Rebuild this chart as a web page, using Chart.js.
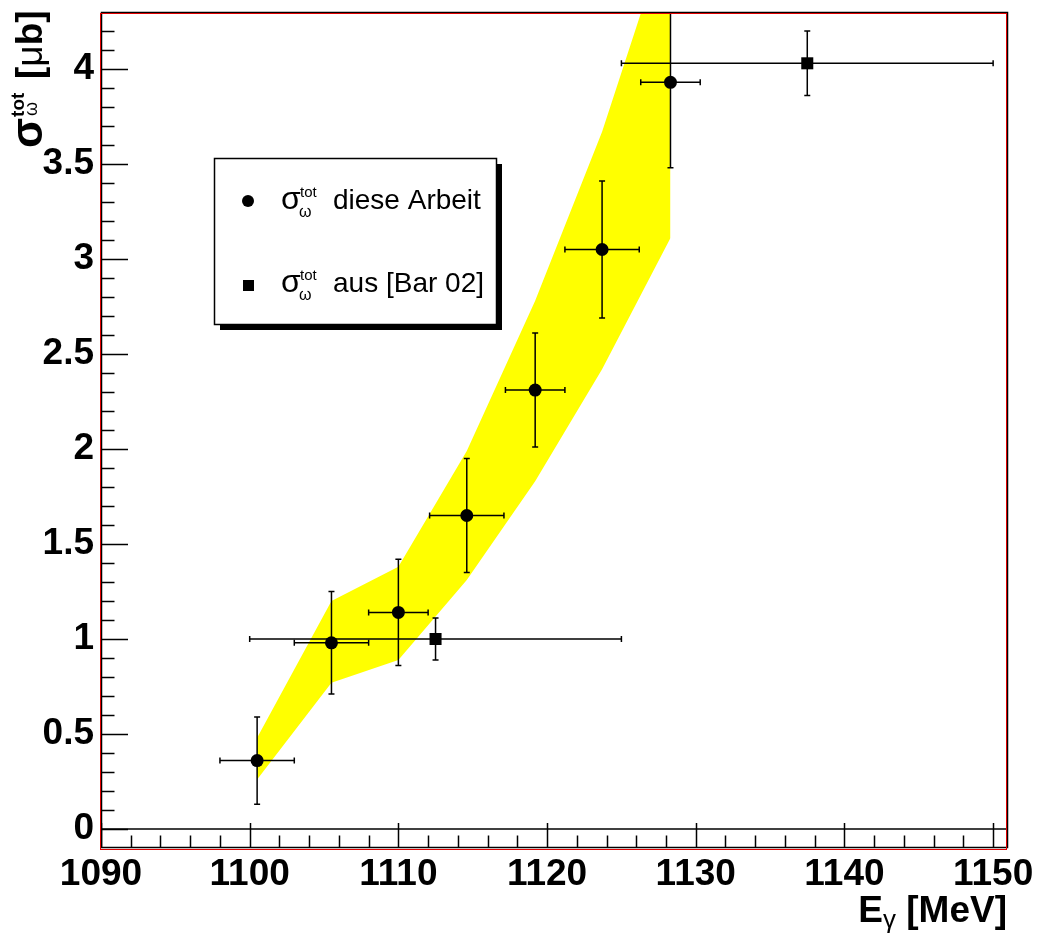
<!DOCTYPE html>
<html>
<head>
<meta charset="utf-8">
<script src="https://cdn.jsdelivr.net/npm/chart.js@4.4.1/dist/chart.umd.min.js"></script>
<style>
  html, body { margin: 0; padding: 0; background: #ffffff; }
  #wrap { width: 1042px; height: 938px; position: relative; }
</style>
</head>
<body>
<div id="wrap"><canvas id="c" width="1042" height="938"></canvas></div>
<script>
// --- measured total cross section of omega photoproduction near threshold ---
const energy    = [1100.5, 1105.5, 1110.0, 1114.6, 1119.2, 1123.7, 1128.3];   // E_gamma [MeV]
const energyErr = [2.5, 2.5, 2.0, 2.5, 2.0, 2.5, 2.0];
const sigma     = [0.36, 0.98, 1.14, 1.65, 2.31, 3.05, 3.93];                 // [mub]
const sigmaErr  = [0.23, 0.27, 0.28, 0.30, 0.30, 0.36, 0.45];

// systematic uncertainty band (lower / upper edge at the same energies)
const bandLower = [0.26, 0.77, 0.89, 1.31, 1.83, 2.42, 3.11];
const bandUpper = [0.48, 1.20, 1.38, 1.99, 2.78, 3.67, 4.77];

// reference values [Bar 02]
const refEnergy    = [1112.5, 1137.5];
const refEnergyErr = [12.5, 12.5];
const refSigma     = [1.00, 4.03];
const refSigmaErr  = [0.11, 0.17];

// axis labelling
const xTickLabels = [1090, 1100, 1110, 1120, 1130, 1140, 1150];
const yTickLabels = [0, 0.5, 1, 1.5, 2, 2.5, 3, 3.5, 4];

const FONT = '"Liberation Sans", Arial, Helvetica, sans-serif';

const pts = (xs, ys) => xs.map((x, i) => ({ x: x, y: ys[i] }));

// error bars for datasets that carry xErr / yErr arrays
const errorBars = {
  id: 'errorBars',
  beforeDatasetDraw(chart, args) {
    const ds = chart.data.datasets[args.index];
    if (!ds.xErr) return;
    const ctx = chart.ctx, xs = chart.scales.x, ys = chart.scales.y, a = chart.chartArea;
    ctx.save();
    ctx.beginPath();
    ctx.rect(a.left, a.top, a.right - a.left, a.bottom - a.top);
    ctx.clip();
    ctx.strokeStyle = '#000';
    ctx.lineWidth = 1.5;
    const cap = 3;
    ds.data.forEach((p, i) => {
      const x1 = xs.getPixelForValue(p.x - ds.xErr[i]);
      const x2 = xs.getPixelForValue(p.x + ds.xErr[i]);
      const y1 = ys.getPixelForValue(p.y - ds.yErr[i]);
      const y2 = ys.getPixelForValue(p.y + ds.yErr[i]);
      const xc = xs.getPixelForValue(p.x), yc = ys.getPixelForValue(p.y);
      ctx.beginPath();
      ctx.moveTo(x1, yc); ctx.lineTo(x2, yc);
      ctx.moveTo(x1, yc - cap); ctx.lineTo(x1, yc + cap);
      ctx.moveTo(x2, yc - cap); ctx.lineTo(x2, yc + cap);
      ctx.moveTo(xc, y1); ctx.lineTo(xc, y2);
      ctx.moveTo(xc - cap, y1); ctx.lineTo(xc + cap, y1);
      ctx.moveTo(xc - cap, y2); ctx.lineTo(xc + cap, y2);
      ctx.stroke();
    });
    ctx.restore();
  }
};

// frame, inner tick marks, zero line, legend and axis titles
const frameAndText = {
  id: 'frameAndText',
  afterDatasetsDraw(chart) {
    const ctx = chart.ctx, xs = chart.scales.x, ys = chart.scales.y;
    const { left, right, top, bottom } = chart.chartArea;
    ctx.save();

    // zero line
    const y0 = ys.getPixelForValue(0);
    ctx.strokeStyle = '#000';
    ctx.lineWidth = 1.5;
    ctx.beginPath();
    ctx.moveTo(left, y0); ctx.lineTo(right, y0);
    ctx.stroke();

    // x ticks (every 2 MeV, long every 10)
    ctx.lineWidth = 1.5;
    ctx.beginPath();
    for (let v = 1090; v <= 1150; v += 2) {
      const px = Math.round(xs.getPixelForValue(v)) + 0.5;
      const len = (v % 10 === 0) ? 25 : 12.5;
      ctx.moveTo(px, bottom); ctx.lineTo(px, bottom - len);
    }
    // y ticks (every 0.1, long every 0.5)
    for (let k = 0; k <= 42; k++) {
      const v = k / 10;
      const py = Math.round(ys.getPixelForValue(v)) + 0.5;
      const len = (k % 5 === 0) ? 27 : 13.5;
      ctx.moveTo(left, py); ctx.lineTo(left + len, py);
    }
    ctx.stroke();

    // frame: black outline with red inner line
    ctx.lineWidth = 1.5;
    ctx.strokeStyle = '#000';
    ctx.strokeRect(left + 0.5, top + 0.5, right - left - 1, bottom - top - 1);
    ctx.lineWidth = 1;
    ctx.strokeStyle = '#e00000';
    ctx.strokeRect(left - 0.5, top + 1.5, right - left - 1, bottom - top);

    // legend box with drop shadow
    const L = { x: 214, y: 158, w: 282, h: 166 };
    ctx.fillStyle = '#000';
    ctx.fillRect(L.x + 6, L.y + 6, L.w, L.h);
    ctx.fillStyle = '#fff';
    ctx.fillRect(L.x, L.y, L.w, L.h);
    ctx.strokeStyle = '#000';
    ctx.lineWidth = 1.5;
    ctx.strokeRect(L.x + 0.5, L.y + 0.5, L.w, L.h);

    const rows = [
      { ds: chart.data.datasets[2], my: 201, base: 209 },
      { ds: chart.data.datasets[3], my: 285, base: 292 }
    ];
    rows.forEach(r => {
      ctx.fillStyle = '#000';
      if (r.ds.pointStyle === 'circle') {
        ctx.beginPath(); ctx.arc(248, r.my, 6, 0, Math.PI * 2); ctx.fill();
      } else {
        ctx.fillRect(243, r.my - 5, 11, 11);
      }
      ctx.textAlign = 'left';
      ctx.textBaseline = 'alphabetic';
      ctx.font = '32px ' + FONT;
      ctx.fillText('σ', 281, r.base);
      ctx.font = '15px ' + FONT;
      ctx.fillText('tot', 300, r.base - 12);
      ctx.font = '16px ' + FONT;
      ctx.fillText('ω', 299, r.base + 8);
      ctx.font = '28px ' + FONT;
      ctx.fillText(r.ds.label, 333, r.base);
    });

    // x title: E_gamma [MeV], right aligned to the frame
    ctx.fillStyle = '#000';
    ctx.textBaseline = 'alphabetic';
    ctx.textAlign = 'left';
    const bigB = 'bold 37px ' + FONT;
    ctx.font = bigB; const wE = ctx.measureText('E').width;
    ctx.font = '26px ' + FONT; const wG = ctx.measureText('γ').width;
    ctx.font = bigB; const wU = ctx.measureText(' [MeV]').width;
    let xs0 = 1007 - (wE + wG + wU);
    ctx.font = bigB; ctx.fillText('E', xs0, 922);
    ctx.font = '26px ' + FONT; ctx.fillText('γ', xs0 + wE, 928);
    ctx.font = bigB; ctx.fillText(' [MeV]', xs0 + wE + wG, 922);

    // y title: sigma^tot_omega [mub], rotated, ending at the frame top
    ctx.save();
    ctx.translate(42, 148);
    ctx.rotate(-Math.PI / 2);
    ctx.font = 'bold 44px ' + FONT; ctx.fillText('σ', 0, 0);
    const wS = ctx.measureText('σ').width;
    ctx.font = 'bold 19px ' + FONT; ctx.fillText('tot', wS + 1, -18);
    ctx.font = '18px ' + FONT; ctx.fillText('ω', wS + 2, -5);
    let p = 69;
    ctx.font = 'bold 37px ' + FONT; ctx.fillText('[', p, 0); p += ctx.measureText('[').width;
    ctx.font = '37px ' + FONT; ctx.fillText('μ', p, 0); p += ctx.measureText('μ').width;
    ctx.font = 'bold 37px ' + FONT; ctx.fillText('b]', p, 0);
    ctx.restore();

    ctx.restore();
  }
};

const chart = new Chart(document.getElementById('c'), {
  type: 'scatter',
  data: {
    datasets: [
      { // band lower edge
        label: 'band lower', data: pts(energy, bandLower), showLine: true,
        borderWidth: 0, pointRadius: 0, fill: false, order: 10,
        backgroundColor: '#ffff00', borderColor: 'rgba(0,0,0,0)'
      },
      { // band upper edge, filled down to the lower edge
        label: 'band upper', data: pts(energy, bandUpper), showLine: true,
        borderWidth: 0, pointRadius: 0, fill: '-1', order: 9,
        backgroundColor: '#ffff00', borderColor: 'rgba(0,0,0,0)'
      },
      {
        label: 'diese Arbeit', data: pts(energy, sigma),
        xErr: energyErr, yErr: sigmaErr,
        pointStyle: 'circle', pointRadius: 6.5, pointBorderWidth: 0,
        backgroundColor: '#000', borderColor: '#000', order: 1
      },
      {
        label: 'aus [Bar 02]', data: pts(refEnergy, refSigma),
        xErr: refEnergyErr, yErr: refSigmaErr,
        pointStyle: 'rect', pointRadius: 8.5, pointBorderWidth: 0,
        backgroundColor: '#000', borderColor: '#000', order: 0
      }
    ]
  },
  options: {
    responsive: false,
    devicePixelRatio: 1,
    animation: false,
    events: [],
    layout: { padding: { left: 0, top: 12, right: 34, bottom: 0 } },
    plugins: {
      legend: { display: false },
      tooltip: { enabled: false },
      filler: { propagate: false }
    },
    scales: {
      x: {
        type: 'linear', min: 1090, max: 1151,
        grid: { display: false, drawTicks: false },
        border: { display: false },
        afterFit: s => { s.height = 90; s.paddingLeft = 0; s.paddingRight = 0; },
        afterBuildTicks: s => { s.ticks = xTickLabels.map(v => ({ value: v })); },
        ticks: {
          autoSkip: false, maxRotation: 0, padding: 5, color: '#000',
          font: { family: FONT, size: 37, weight: 'bold' },
          callback: v => String(v)
        }
      },
      y: {
        type: 'linear', min: -0.1, max: 4.3,
        grid: { display: false, drawTicks: false },
        border: { display: false },
        afterFit: s => { s.width = 101; s.paddingTop = 0; s.paddingBottom = 0; },
        afterBuildTicks: s => { s.ticks = yTickLabels.map(v => ({ value: v })); },
        ticks: {
          autoSkip: false, padding: 7, color: '#000',
          font: { family: FONT, size: 37, weight: 'bold' },
          callback: v => String(v)
        }
      }
    }
  },
  plugins: [errorBars, frameAndText]
});
</script>
</body>
</html>
